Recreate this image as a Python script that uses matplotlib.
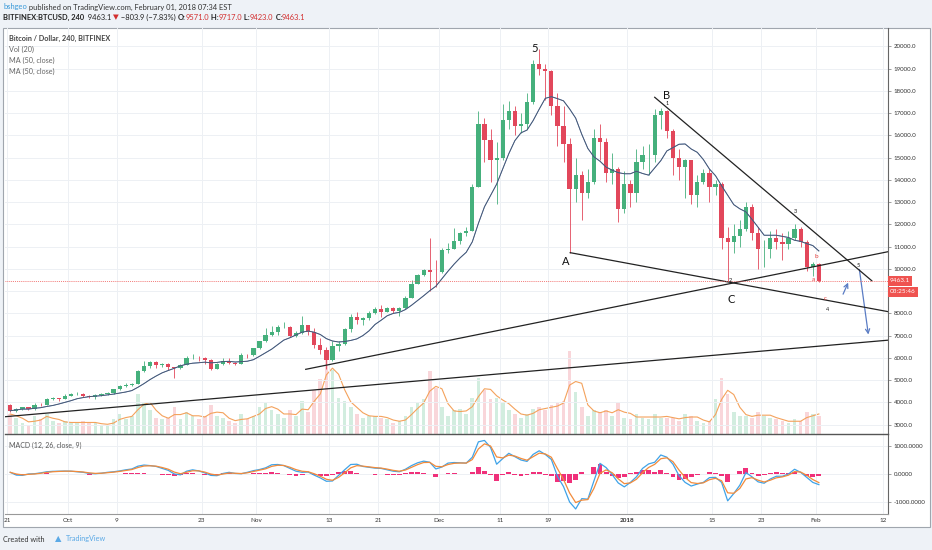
import numpy as np
import pandas as pd
import matplotlib
matplotlib.use("Agg")
from matplotlib import pyplot as plt
from matplotlib.patches import Rectangle, FancyArrowPatch

plt.rcParams['font.family'] = ['Lato', 'DejaVu Sans']

#------ Data (daily) ------#
# day index = days since Oct 1 2017, from Sep 21 to Feb 1
first_open = 3900
closes = [3630, 3700, 3780, 3700, 3900, 3890, 4150, 4180, 4160, 4300,
          4380, 4400, 4310, 4230, 4320, 4360, 4420, 4600, 4760, 4770,
          4820, 5420, 5640, 5820, 5690, 5750, 5600, 5560, 5700, 5990,
          6010, 5980, 5900, 5520, 5740, 5880, 5770, 5750, 6140, 6130,
          6450, 6740, 7030, 7160, 7380, 7400, 6980, 7120, 7460, 7150,
          6600, 6340, 5900, 6550, 6630, 7280, 7850, 7700, 7790, 8030,
          8210, 8070, 8240, 8130, 8230, 8700, 9330, 9720, 9940, 9880,
          9840, 10850, 10910, 11240, 11620, 11700, 13700, 16500, 15800, 14900,
          15000, 16700, 17100, 16400, 16500, 17500, 19200, 19000, 18900, 17300,
          16400, 15600, 13600, 14200, 13400, 13900, 15900, 15700, 14300, 14500,
          12700, 13800, 13400, 14800, 15100, 15100, 16900, 17100, 16200, 15000,
          14600, 14900, 13300, 13900, 14300, 13700, 13800, 11400, 11200, 11500,
          11800, 12800, 11600, 10900, 10900, 11400, 11200, 11100, 11400, 11800,
          11200, 10100, 10200, 9463.1]
highs = [3950, 3760, 3820, 3810, 3970, 3990, 4220, 4260, 4220, 4360,
         4420, 4470, 4420, 4330, 4360, 4420, 4460, 4620, 4800, 4880,
         4880, 5450, 5850, 5860, 5870, 5790, 5780, 5610, 5740, 6070,
         6190, 6080, 6060, 5950, 5780, 5980, 5990, 5830, 6240, 6200,
         6470, 6770, 7330, 7450, 7480, 7620, 7420, 7220, 7870, 7480,
         7330, 6880, 6490, 6750, 6750, 7330, 7990, 8080, 7860, 8100,
         8300, 8380, 8300, 8290, 8280, 8770, 9520, 9770, 10000, 11400,
         10400, 10950, 11150, 11850, 11650, 11900, 13800, 17100, 16800, 16300,
         15700, 17400, 17560, 17300, 17000, 17900, 19400, 19891, 19200, 18950,
         17900, 17300, 15900, 15000, 14400, 14500, 16300, 16500, 15900, 15200,
         14600, 14400, 14000, 15400, 15500, 15600, 17200, 17250, 17150, 16300,
         15400, 14950, 14900, 14200, 14500, 14500, 14000, 13900, 11900, 12000,
         12200, 13000, 12900, 11900, 11300, 11700, 11800, 11600, 11700, 12000,
         11900, 11300, 10300, 10250]
lows = [3560, 3580, 3660, 3650, 3680, 3850, 3880, 4120, 4080, 4150,
        4280, 4350, 4250, 4180, 4150, 4300, 4330, 4400, 4580, 4700,
        4740, 4810, 5380, 5560, 5570, 5600, 5450, 5100, 5500, 5680,
        5950, 5860, 5710, 5450, 5500, 5680, 5720, 5690, 5710, 6020,
        6110, 6400, 6720, 7000, 7030, 7340, 6950, 6950, 7080, 7050,
        6450, 6200, 5500, 5850, 6320, 6600, 7150, 7530, 7500, 7700,
        7980, 7830, 8060, 8030, 7880, 8200, 8680, 9320, 9680, 9000,
        9200, 9800, 10700, 10900, 11100, 11500, 11700, 13700, 14800, 13900,
        12900, 14900, 16300, 16000, 16100, 16300, 17400, 18700, 17600, 16900,
        15500, 14800, 10700, 13000, 12200, 13200, 13800, 14900, 13900, 13800,
        12100, 12500, 12800, 13000, 14500, 14200, 14800, 16300, 15900, 14200,
        14000, 13200, 12900, 12800, 13800, 13000, 13300, 10900, 9460, 10700,
        11000, 11700, 11300, 10000, 10100, 10500, 10900, 10400, 10900, 11300,
        11000, 9900, 9700, 9423]
volume = [22, 18, 12, 10, 20, 16, 22, 14, 12, 14,
          12, 12, 14, 12, 12, 10, 10, 16, 22, 16,
          20, 44, 34, 26, 18, 16, 18, 30, 16, 24,
          20, 16, 20, 32, 20, 18, 14, 12, 22, 16,
          20, 30, 34, 26, 22, 18, 26, 20, 36, 24,
          48, 60, 87, 70, 40, 36, 30, 22, 18, 20,
          20, 18, 16, 12, 14, 20, 30, 34, 38, 69,
          50, 30, 20, 26, 28, 22, 40, 61, 48, 38,
          40, 34, 26, 22, 18, 22, 28, 30, 26, 32,
          34, 36, 91, 46, 30, 20, 26, 24, 26, 20,
          34, 18, 16, 22, 18, 16, 22, 18, 18, 18,
          14, 22, 20, 14, 12, 14, 38, 62, 44, 24,
          20, 20, 18, 24, 20, 18, 16, 14, 12, 16,
          14, 24, 22, 20]
macd = [60, -40, -50, 0, 10, 40, 80, 95, 100, 105,
        100, 80, 60, 20, 10, 30, 60, 80, 110, 150,
        180, 280, 320, 300, 270, 200, 130, 0, -30, 100,
        150, 110, 40, -50, -60, 20, 60, 20, 10, 60,
        120, 160, 220, 330, 340, 300, 200, 100, 60, 70,
        -40, -140, -260, -250, -50, 150, 340, 350, 270, 240,
        210, 200, 150, 100, 80, 170, 300, 400, 460, 420,
        180, 250, 390, 410, 400, 390, 600, 1150, 1200, 950,
        350, 550, 740, 620, 500, 450, 700, 830, 700, 520,
        -80, -450, -1000, -1250, -880, -900, -250, 380, 230, -20,
        -320, -460, -300, -100, 200, 360, 420, 680, 600, 350,
        -60, -300, -430, -360, -300, -130, -120, -300, -960, -700,
        -400, 50, -100, -280, -330, -180, -80, -80, 0, 170,
        60, -120, -300, -380]

# date axis
tick_days = [-10, 0, 8, 22, 31, 43, 51, 61, 71, 79, 92, 106, 114, 123, 134]
tick_labels = ["21", "Oct", "9", "23", "Nov", "13", "21", "Dec", "11", "19",
               "2018", "15", "23", "Feb", "12"]
price_ticks = list(range(3000, 20001, 1000))

# drawings on the chart (day, price)
trend_lines = [((-10.4, 3360), (134.9, 6800)),
               ((39.1, 5490), (134.9, 10775)),
               ((82.6, 10730), (134.9, 8080)),
               ((96.5, 17710), (132.2, 9470))]
wave_labels = [("5", 76.8, 19880, 8, '#111'), ("A", 81.9, 10355, 8, '#111'),
               ("B", 98.4, 17810, 8, '#111'), ("C", 109.0, 8635, 8, '#111'),
               ("1", 98.5, 17440, 4, '#111'), ("2", 109.0, 9500, 4, '#111'),
               ("3", 119.7, 12570, 4, '#111'), ("4", 124.9, 8185, 4, '#111'),
               ("5", 130.0, 10145, 4, '#111'),
               ("a", 122.6, 9545, 4.5, '#e53935'), ("b", 123.0, 10580, 4.5, '#e53935'),
               ("c", 124.5, 8680, 4.5, '#e53935')]
arrows = [((127.3, 8752), (128.5, 9500)), ((130.1, 10100), (131.7, 6930))]
last_price = 9463.1

#------ Derived ------#
day = np.arange(-10, 124)
x = day + 0.5
closes = np.array(closes, float)
opens = np.concatenate([[first_open], closes[:-1]])
highs = np.array(highs, float)
lows = np.array(lows, float)
volume = np.array(volume, float)
up = closes >= opens
ma50 = pd.Series(closes).rolling(8, min_periods=1).mean()
vol_ma = pd.Series(volume).rolling(3, min_periods=1).mean()
macd = pd.Series(macd, dtype=float)
signal = macd.ewm(alpha=0.6, adjust=False).mean()
hist = macd - signal

W, H = 932, 550
def fx(px):
    return px / W
def fy(py):
    return 1 - py / H

fig = plt.figure(figsize=(W / 100, H / 100), dpi=100)
fig.patch.set_facecolor('#eef2f7')
fig.patches.append(Rectangle((fx(3), fy(527)), fx(930) - fx(3), fy(28) - fy(527),
                             transform=fig.transFigure, facecolor='white',
                             edgecolor='#a0a6ae', lw=0.8, zorder=-5))

ax = fig.add_axes([fx(5), fy(434), fx(888) - fx(5), fy(28) - fy(434)])
axv = ax.twinx()
ax.set_zorder(axv.get_zorder() + 1)
ax.patch.set_visible(False)
axm = fig.add_axes([fx(5), fy(514), fx(888) - fx(5), fy(434) - fy(514)], sharex=ax)

green, red = '#45b07c', '#e2475b'
ccol = np.where(up, green, red)

# volume
axv.bar(x, volume, width=0.6, color=np.where(up, '#8fd3b0', '#f09aa3'), alpha=0.4, lw=0)
axv.plot(x, vol_ma, color='#f4a25c', lw=0.8)
axv.set_ylim(0, volume.max() * 4.9)
axv.axis('off')

# candles
ax.vlines(x, lows, highs, colors=ccol, lw=0.6)
ax.bar(x, closes - opens, bottom=opens, width=0.7, color=ccol, lw=0)
ax.plot(x, ma50, color='#4a78c2', lw=0.7)
ax.plot(x, ma50, color='#4a4a4a', lw=0.6, alpha=0.75)

for (x0, y0), (x1, y1) in trend_lines:
    ax.plot([x0, x1], [y0, y1], color='#222222', lw=0.9)
for s, lx, ly, fs, c in wave_labels:
    ax.text(lx, ly, s, fontsize=fs, color=c, ha='center', va='center')
for (x0, y0), (x1, y1) in arrows:
    ax.add_patch(FancyArrowPatch((x0, y0), (x1, y1), arrowstyle='->,head_length=3,head_width=1.5',
                                 color='#5a7cc4', lw=0.9))

ax.axhline(last_price, color='#ef5350', lw=0.6, ls=(0, (1, 1.3)))

ax.set_xlim(-10.36, 134.87)
ax.set_ylim(2585, 20822)
ax.yaxis.tick_right()
ax.set_yticks(price_ticks)
ax.set_yticklabels(['' if v == 9000 else f"{v:.1f}" for v in price_ticks])
ax.tick_params(axis='y', labelsize=4.4, labelcolor='#333', color='#777', length=2, width=0.5, pad=2)
ax.set_xticks(tick_days)
ax.tick_params(axis='x', bottom=False, labelbottom=False)
ax.grid(color='#edf0f4', lw=0.7)
ax.set_axisbelow(True)
for k in ['top', 'left']:
    ax.spines[k].set_visible(False)
ax.spines['right'].set_color('#666')
ax.spines['right'].set_linewidth(0.8)
ax.spines['bottom'].set_color('#555')
ax.spines['bottom'].set_linewidth(1.0)

tr = ax.get_yaxis_transform()
ax.text(1.002, last_price, "9463.1", transform=tr, ha='left', va='center', fontsize=4.6,
        color='white', clip_on=False, zorder=10,
        bbox=dict(boxstyle='square,pad=0.35', fc='#ef5350', ec='none'))
ax.text(1.002, 8970, "03:25:46", transform=tr, ha='left', va='center', fontsize=4.6,
        color='white', clip_on=False, zorder=10,
        bbox=dict(boxstyle='square,pad=0.35', fc='#ef5350', ec='none'))

# MACD
axm.bar(x, hist, width=0.8, color='#f0307a', lw=0)
axm.plot(x, macd, color='#3fa3e8', lw=0.9)
axm.plot(x, signal, color='#f28b3b', lw=0.9)
axm.set_ylim(-1430, 1430)
axm.yaxis.tick_right()
axm.set_yticks([1000, 0, -1000])
axm.set_yticklabels(["1000.0000", "0.0000", "-1000.0000"])
axm.tick_params(axis='y', labelsize=4.4, labelcolor='#333', color='#777', length=2, width=0.5, pad=2)
axm.set_xticks(tick_days)
axm.set_xticklabels(tick_labels)
axm.tick_params(axis='x', labelsize=4.6, labelcolor='#333', length=0, pad=3)
for lab in axm.get_xticklabels():
    if lab.get_text() == "2018":
        lab.set_fontweight('bold')
axm.grid(color='#edf0f4', lw=0.7)
axm.set_axisbelow(True)
for k in ['top', 'left']:
    axm.spines[k].set_visible(False)
axm.spines['right'].set_color('#666')
axm.spines['right'].set_linewidth(0.8)
axm.spines['bottom'].set_color('#999')

#------ Texts ------#
renderer = fig.canvas.get_renderer()
def run_text(px, py, parts, size):
    xx = px / W
    for s, color, weight in parts:
        t = fig.text(xx, fy(py), s, color=color, fontsize=size, fontweight=weight,
                     ha='left', va='center')
        xx = t.get_window_extent(renderer).x1 / W

dark, rd = '#222222', '#d32f2f'
run_text(3, 7, [("bshgeo", '#3a9ad9', 'normal'),
                (" published on TradingView.com, February 01, 2018 07:34 EST", '#333', 'normal')], 5.4)
run_text(3, 17, [("BITFINEX:BTCUSD, 240", dark, 'bold'), ("  9463.1 ", dark, 'normal'),
                 ("\u25bc", rd, 'normal'), (" \u2212803.9 (\u22127.83%) ", dark, 'normal'),
                 ("O:", dark, 'bold'), ("9571.0", rd, 'normal'),
                 (" H:", dark, 'bold'), ("9717.0", rd, 'normal'),
                 (" L:", dark, 'bold'), ("9423.0", rd, 'normal'),
                 (" C:", dark, 'bold'), ("9463.1", rd, 'normal')], 5.4)
run_text(9, 38, [("Bitcoin / Dollar, 240, BITFINEX", '#444', 'bold')], 5.2)
for i, s in enumerate(["Vol (20)", "MA (50, close)", "MA (50, close)"]):
    run_text(9, 49 + 11 * i, [(s, '#666', 'normal')], 5.2)
run_text(9, 445, [("MACD (12, 26, close, 9)", '#555', 'normal')], 5.0)
run_text(3, 539, [("Created with", '#333', 'normal')], 5.2)
fig.text(fx(58), fy(539), "\u25b2", color='#5aa9e6', fontsize=6, ha='center', va='center')
run_text(66, 539, [("TradingView", '#5aa9e6', 'normal')], 5.2)

fig.savefig('out.png', dpi=100, facecolor=fig.get_facecolor())
